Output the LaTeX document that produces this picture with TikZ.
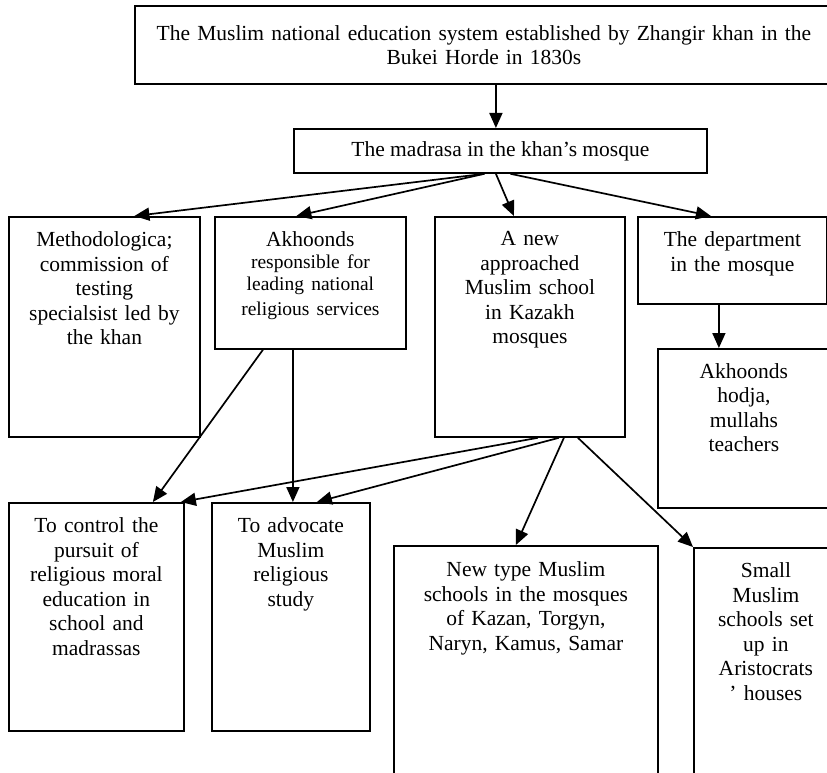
\documentclass[tikz,border=0pt]{standalone}
\usepackage{fontspec}
\setmainfont{Liberation Serif}
\usetikzlibrary{arrows.meta,positioning}

\tikzset{
    blk/.style={draw, line width=1.8pt, rectangle, anchor=north west, inner sep=0pt},
    txt/.style={align=center, inner sep=0pt, font=\fontsize{21.5}{24.5}\selectfont},
    arr/.style={-{Triangle[length=15pt,width=13pt]}, line width=1.7pt},
}
\newcommand{\smallsz}{\fontsize{19.5}{22}\selectfont}

\begin{document}
\begin{tikzpicture}[x=1pt, y=-1pt]
                \useasboundingbox (0,0) rectangle (827,773);
                \clip (0,0) rectangle (827,773);
                % top two
                \node[blk, txt, minimum width=698pt, minimum height=78pt, text width=680pt] (top) at (134,5)
                    {The Muslim national education system established by Zhangir khan in the\\ Bukei Horde in 1830s\\[3pt]};
                \node[blk, txt, minimum width=413pt, minimum height=44pt] (madrasa) at (293,128)
                    {The madrasa in the khan’s mosque};
                % second row
                \node[blk, minimum width=191pt, minimum height=220pt] (meth) at (8,216) {};
                \node[blk, minimum width=191pt, minimum height=132pt] (akh) at (214,216) {};
                \node[blk, minimum width=190pt, minimum height=220pt] (anew) at (434,216) {};
                \node[blk, minimum width=189pt, minimum height=87pt] (dept) at (637,216) {};
                \node[blk, minimum width=172pt, minimum height=159pt] (hodja) at (657,348) {};
                % third row
                \node[blk, minimum width=175pt, minimum height=228pt] (control) at (8,502) {};
                \node[blk, minimum width=158pt, minimum height=228pt] (advocate) at (211,502) {};
                \node[blk, minimum width=264pt, minimum height=260pt] (newtype) at (393,545) {};
                \node[blk, minimum width=144pt, minimum height=260pt] (small) at (693,547) {};
                % texts
                \node[txt, text width=185pt, below=15.5pt of meth.north] (meth-t)
                    {Methodologica;\\ commission of\\ testing\\ specialsist led by\\ the khan};
                \node[txt, text width=185pt, below=15.5pt of akh.north] (akh-t)
                    {Akhoonds\\ \smallsz responsible for\\ leading national\\ religious services};
                \node[txt, text width=185pt, below=15.5pt of anew.north] (anew-t)
                    {A new\\ approached\\ Muslim school\\ in Kazakh\\ mosques};
                \node[txt, text width=185pt, below=15.5pt of dept.north] (dept-t)
                    {The department\\ in the mosque};
                \node[txt, text width=165pt, below=15pt of hodja.north] (hodja-t)
                    {Akhoonds\\ hodja,\\ mullahs\\ teachers};
                \node[txt, text width=170pt, below=15.5pt of control.north] (control-t)
                    {To control the\\ pursuit of\\ religious moral\\ education in\\ school and\\ madrassas};
                \node[txt, text width=155pt, below=15.5pt of advocate.north] (advocate-t)
                    {To advocate\\ Muslim\\ religious\\ study};
                \node[txt, text width=260pt, below=16.5pt of newtype.north] (newtype-t)
                    {New type Muslim\\ schools in the mosques\\ of Kazan, Torgyn,\\ Naryn, Kamus, Samar};
                \node[txt, text width=140pt, below=15.5pt of small.north] (small-t)
                    {Small\\ Muslim\\ schools set\\ up in\\ Aristocrats\\ ’ houses};
                % arrows
                \draw[arr] ([xshift=12pt]top.south) -- ([xshift=-4.5pt]madrasa.north);
                \draw[arr] ([xshift=-16pt]madrasa.south) -- ([xshift=30pt]meth.north);
                \draw[arr] ([xshift=-16pt]madrasa.south) -- ([xshift=-14pt]akh.north);
                \draw[arr] ([xshift=-4.5pt]madrasa.south) -- ([xshift=-16pt]anew.north);
                \draw[arr] ([xshift=10pt]madrasa.south) -- ([xshift=-21.5pt]dept.north);
                \draw[arr] ([xshift=-47.5pt]akh.south) -- ([xshift=56.5pt]control.north);
                \draw[arr] ([xshift=-17.5pt]akh.south) -- ([xshift=2pt]advocate.north);
                \draw[arr] ([xshift=8pt]anew.south) -- ([xshift=84.5pt]control.north);
                \draw[arr] ([xshift=29pt]anew.south) -- ([xshift=26pt]advocate.north);
                \draw[arr] ([xshift=34pt]anew.south) -- ([xshift=-10pt]newtype.north);
                \draw[arr] ([xshift=48pt]anew.south) -- (small.north west);
                \draw[arr] ([xshift=-13.5pt]dept.south) -- ([xshift=-25pt]hodja.north);
\end{tikzpicture}
\end{document}
